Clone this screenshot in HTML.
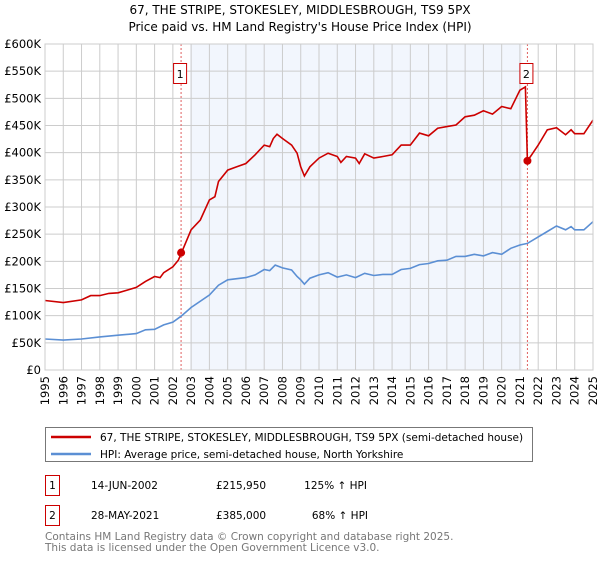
<!DOCTYPE html>
<html><head><meta charset="utf-8"><style>
body{margin:0;background:#fff;font-family:"DejaVu Sans","Liberation Sans",sans-serif}
svg text{font-family:"DejaVu Sans","Liberation Sans",sans-serif}
</style></head><body>
<svg width="600" height="560" xmlns="http://www.w3.org/2000/svg">
<text x="300" y="14" text-anchor="middle" font-size="12">67, THE STRIPE, STOKESLEY, MIDDLESBROUGH, TS9 5PX</text>
<text x="300" y="31" text-anchor="middle" font-size="12">Price paid vs. HM Land Registry's House Price Index (HPI)</text>
<g id="plot"></g>
<rect x="45.5" y="427.5" width="487" height="34" fill="#fff" stroke="#777"/>
<line x1="51" x2="91" y1="437" y2="437" stroke="#cc0000" stroke-width="2.5"/>
<text x="100" y="441" font-size="10.5">67, THE STRIPE, STOKESLEY, MIDDLESBROUGH, TS9 5PX (semi-detached house)</text>
<line x1="51" x2="91" y1="454" y2="454" stroke="#5b8fd4" stroke-width="2.5"/>
<text x="100" y="458" font-size="10.5">HPI: Average price, semi-detached house, North Yorkshire</text>
<g font-size="10.5">
<rect x="45.5" y="475.5" width="14" height="20" fill="#fff" stroke="#cc0000"/>
<text x="52.5" y="489" text-anchor="middle">1</text>
<text x="91" y="489">14-JUN-2002</text>
<text x="216" y="489">£215,950</text>
<text x="367" y="489" text-anchor="end">125% ↑ HPI</text>
<rect x="45.5" y="505.5" width="14" height="20" fill="#fff" stroke="#cc0000"/>
<text x="52.5" y="519" text-anchor="middle">2</text>
<text x="91" y="519">28-MAY-2021</text>
<text x="216" y="519">£385,000</text>
<text x="368" y="519" text-anchor="end">68% ↑ HPI</text>
</g>
<text x="45" y="540" font-size="10.5" fill="#777">Contains HM Land Registry data © Crown copyright and database right 2025.</text>
<text x="45" y="551" font-size="10.5" fill="#777">This data is licensed under the Open Government Licence v3.0.</text>
</svg>
<script>
const redYears=[1995,1996,1997,1997.5,1998,1998.5,1999,1999.5,2000,2000.5,2001,2001.3,2001.5,2002,2002.3,2002.45,2003,2003.5,2004,2004.3,2004.5,2005,2005.5,2006,2006.5,2007,2007.3,2007.5,2007.7,2008,2008.5,2008.8,2009,2009.2,2009.5,2010,2010.5,2011,2011.2,2011.5,2012,2012.2,2012.5,2013,2013.5,2014,2014.5,2015,2015.5,2016,2016.5,2017,2017.5,2018,2018.5,2019,2019.5,2020,2020.5,2021,2021.3,2021.41,2021.6,2022,2022.5,2023,2023.5,2023.8,2024,2024.5,2025];
const redValues=[128,124,129,137,137,141,142,147,152,163,172,170,179,190,202,214,258,276,313,319,347,368,374,380,396,414,411,426,434,426,414,399,374,357,374,390,399,393,382,393,390,380,398,390,393,396,414,414,436,431,445,448,451,466,469,477,471,485,481,515,521,385,394,414,442,446,433,442,435,435,460];
const hpiYears=[1995,1996,1997,1998,1999,2000,2000.5,2001,2001.5,2002,2002.45,2003,2004,2004.5,2005,2006,2006.5,2007,2007.3,2007.6,2008,2008.5,2008.8,2009,2009.2,2009.5,2010,2010.5,2011,2011.5,2012,2012.5,2013,2013.5,2014,2014.5,2015,2015.5,2016,2016.5,2017,2017.5,2018,2018.5,2019,2019.5,2020,2020.5,2021,2021.41,2022,2022.5,2023,2023.5,2023.8,2024,2024.5,2025];
const hpiValues=[57,55,57,61,64,67,74,75,83,88,99,115,138,156,166,170,175,185,183,193,188,184,172,166,158,169,175,179,171,175,170,178,174,176,176,185,187,194,196,201,202,209,209,213,210,216,213,224,230,233,245,255,265,258,264,258,258,273];
const saleYears=[2002.45,2021.41];
const saleValues=[215.95,385];
const saleLabels=["1","2"];
const yTicks=[0,50,100,150,200,250,300,350,400,450,500,550,600];
const yTickLabels=["£0","£50K","£100K","£150K","£200K","£250K","£300K","£350K","£400K","£450K","£500K","£550K","£600K"];
const xTicks=[1995,1996,1997,1998,1999,2000,2001,2002,2003,2004,2005,2006,2007,2008,2009,2010,2011,2012,2013,2014,2015,2016,2017,2018,2019,2020,2021,2022,2023,2024,2025];

const L=45,R=593,T=44,B=370;
const xs=y=>L+(y-1995)/30*(R-L);
const ys=v=>B-v/600*(B-T);
const NS="http://www.w3.org/2000/svg";
const g=document.getElementById('plot');
function mk(tag,attrs){const e=document.createElementNS(NS,tag);for(const k in attrs)e.setAttribute(k,attrs[k]);g.appendChild(e);return e;}
let e=mk('rect',{x:L,y:T,width:R-L,height:B-T,fill:'#fff'});


e=mk('rect',{x:xs(2002.45)+9,y:T,width:xs(2021.41)-xs(2002.45)-14,height:B-T,fill:'#eef3fc',opacity:0.75});


yTicks.forEach((v,i)=>{
  const l=mk('line',{x1:L,x2:R,y1:ys(v),y2:ys(v),stroke:'#ccc'});
  
  
  const t=mk('text',{x:L-4,y:ys(v)+4,'text-anchor':'end','font-size':'11.5'});
  t.textContent=yTickLabels[i];
  
  
});
xTicks.forEach(y=>{
  const l=mk('line',{x1:xs(y),x2:xs(y),y1:T,y2:B,stroke:'#ccc'});
  
  
  const t=mk('text',{x:0,y:0,'text-anchor':'end','font-size':'11.5',transform:`translate(${xs(y)+4},${B+6}) rotate(-90)`});
  t.textContent=y;
  
  
});
saleYears.forEach((y,i)=>{
  const l=mk('line',{x1:xs(y),x2:xs(y),y1:T,y2:B,stroke:'#e06060','stroke-dasharray':'2,2'});
  
  
});
function path(xv,yv,color,name){
  const p=mk('path',{d:xv.map((x,i)=>(i?'L':'M')+xs(x).toFixed(1)+','+ys(yv[i]).toFixed(1)).join(''),fill:'none',stroke:color,'stroke-width':1.6});
  
  
}
path(hpiYears,hpiValues,'#5b8fd4','hpi-line');
path(redYears,redValues,'#cc0000','property-price-line');
saleYears.forEach((y,i)=>{
  const c=mk('circle',{cx:xs(y),cy:ys(saleValues[i]),r:4,fill:'#cc0000'});
  
  
  const bx=xs(y)-8;
  const r=mk('rect',{x:bx+0.5,y:63.5,width:13,height:20,fill:'#fff',stroke:'#cc0000'});
  
  
  const t=mk('text',{x:bx+7,y:78,'text-anchor':'middle','font-size':'11'});
  t.textContent=saleLabels[i];
  
  
});
e=mk('rect',{x:L,y:T,width:R-L,height:B-T,fill:'none',stroke:'#ccc'});


</script>
</body></html>
